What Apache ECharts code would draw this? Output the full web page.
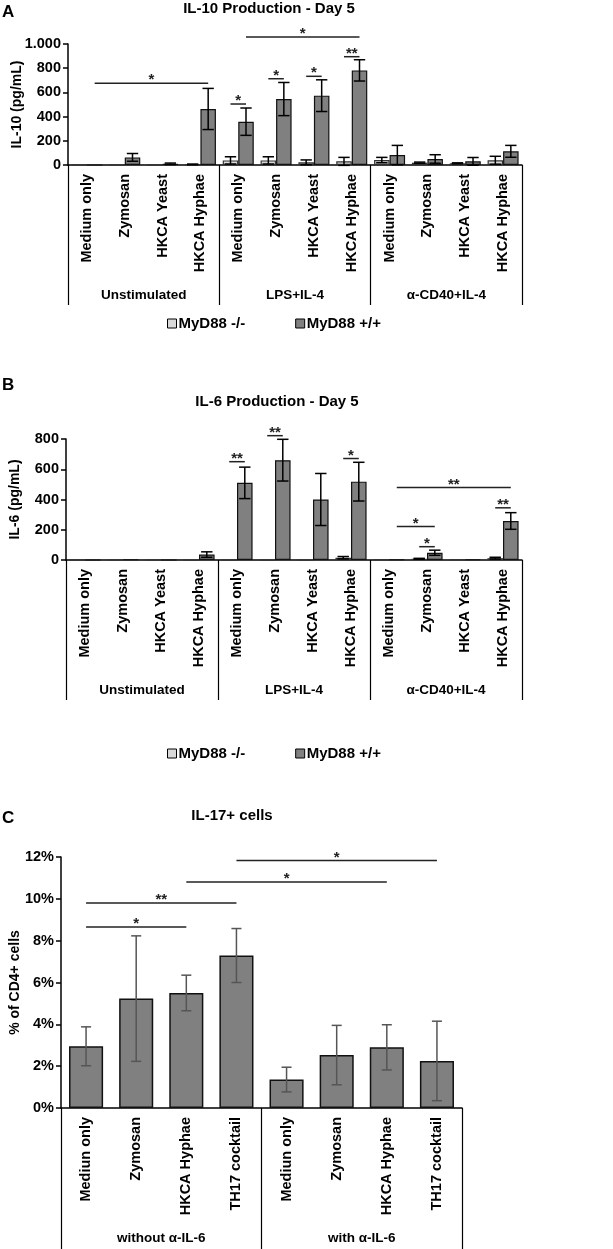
<!DOCTYPE html>
<html>
<head>
<meta charset="utf-8">
<script src="https://cdn.jsdelivr.net/npm/echarts@6/dist/echarts.min.js"></script>
<style>html,body{margin:0;padding:0;background:#fff}#c{width:613px;height:1249px}</style>
</head>
<body>
<div id="c"></div>
<script>
// ---------- data ----------
const catsAB = ['Medium only','Zymosan','HKCA Yeast','HKCA Hyphae','Medium only','Zymosan','HKCA Yeast','HKCA Hyphae','Medium only','Zymosan','HKCA Yeast','HKCA Hyphae'];
const groupsAB = ['Unstimulated','LPS+IL-4','α-CD40+IL-4'];
const seriesNames = ['MyD88 -/-','MyD88 +/+'];

const il10Ko    = [0, 0, 0, 5,   38, 38, 22, 30,   41, 19, 14, 39];
const il10KoErr = [0, 0, 0, 3,   30, 30, 20, 33,   22, 5, 4, 33];
const il10Wt    = [0, 63, 10, 463,  358, 545, 573, 782,  82, 50, 30, 113];
const il10WtErr = [0, 32, 6, 170,   113, 137, 131, 88,   80, 35, 32, 49];
// [fromCat, fromSeries(0=-/-,1=+/+), toCat, toSeries, height, mark]
const il10Sig = [[0,1,3,1,675,'*'],[4,1,7,1,1058,'*'],[4,0,4,1,504,'*'],[5,0,5,1,713,'*'],[6,0,6,1,733,'*'],[7,0,7,1,895,'**']];

const il6Ko    = [0, 0, 0, 0,   0, 0, 0, 15,   3, 8, 3, 12];
const il6KoErr = [0, 0, 0, 0,   0, 0, 0, 8,    0, 3, 0, 6];
const il6Wt    = [0, 3, 0, 36,  510, 660, 400, 518,  3, 48, 3, 258];
const il6WtErr = [0, 0, 0, 18,  104, 138, 172, 128,  0, 17, 0, 55];
const il6Sig = [[4,0,4,1,650,'**'],[5,0,5,1,822,'**'],[7,0,7,1,671,'*'],[8,1,11,1,479,'**'],[11,0,11,1,345,'**'],[8,1,9,1,221,'*'],[9,0,9,1,88,'*']];

const catsC = ['Mediun only','Zymosan','HKCA Hyphae','TH17 cocktail','Mediun only','Zymosan','HKCA Hyphae','TH17 cocktail'];
const groupsC = ['without α-IL-6','with α-IL-6'];
const il17    = [2.95, 5.23, 5.5, 7.29, 1.36, 2.53, 2.9, 2.25];
const il17Err = [0.93, 3.0, 0.85, 1.29, 0.59, 1.42, 1.08, 1.9];
// [fromCat, toCat, height, mark]
const il17Sig = [[0,2,8.65,'*'],[0,3,9.8,'**'],[2,6,10.81,'*'],[3,7,11.83,'*']];

// ---------- style ----------
const FONT = '"Liberation Sans", Arial, sans-serif';
const LIGHT = '#d9d9d9', DARK = '#808080';
const BAR_CAT_GAP_AB = 0.18;
const BAR_FRAC_AB = (1 - BAR_CAT_GAP_AB) / 2;

function errSeries(grid, values, errs, offsetFrac, capFrac, color, width) {
  return {
    type: 'custom', xAxisIndex: grid.x, yAxisIndex: grid.y, clip: false, z: 5,
    data: values.map((v, i) => [i, v, errs[i]]),
    renderItem: function (params, api) {
      const i = api.value(0), v = api.value(1), e = api.value(2);
      if (!e) return null;
      const band = api.size([1, 0])[0];
      const cx = api.coord([i, v])[0] + offsetFrac * band;
      const yt = api.coord([i, v + e])[1];
      const yb = api.coord([i, v - e])[1];
      const hw = capFrac * band / 2;
      const ls = { stroke: color, lineWidth: width };
      return { type: 'group', children: [
        { type: 'line', shape: { x1: cx, y1: yt, x2: cx, y2: yb }, style: ls },
        { type: 'line', shape: { x1: cx - hw, y1: yt, x2: cx + hw, y2: yt }, style: ls },
        { type: 'line', shape: { x1: cx - hw, y1: yb, x2: cx + hw, y2: yb }, style: ls }
      ]};
    }
  };
}

function sigSeriesAB(grid, sig) {
  return {
    type: 'custom', xAxisIndex: grid.x, yAxisIndex: grid.y, clip: false, z: 6,
    data: sig.map(s => [s[0], s[4]]),
    renderItem: function (params, api) {
      const s = sig[params.dataIndex];
      const band = api.size([1, 0])[0];
      const off = k => (k === 0 ? -1 : 1) * BAR_FRAC_AB / 2 * band;
      const x1 = api.coord([s[0], s[4]])[0] + off(s[1]);
      const x2 = api.coord([s[2], s[4]])[0] + off(s[3]);
      const y = api.coord([s[0], s[4]])[1];
      return { type: 'group', children: [
        { type: 'line', shape: { x1: x1, y1: y, x2: x2, y2: y }, style: { stroke: '#222', lineWidth: 1.5 } },
        { type: 'text', style: { text: s[5], x: (x1 + x2) / 2, y: y - 3, textAlign: 'center', textVerticalAlign: 'middle', font: 'bold 15px ' + FONT, fill: '#222' } }
      ]};
    }
  };
}

function sigSeriesC(grid, sig) {
  return {
    type: 'custom', xAxisIndex: grid.x, yAxisIndex: grid.y, clip: false, z: 6,
    data: sig.map(s => [s[0], s[2]]),
    renderItem: function (params, api) {
      const s = sig[params.dataIndex];
      const x1 = api.coord([s[0], s[2]])[0];
      const x2 = api.coord([s[1], s[2]])[0];
      const y = api.coord([s[0], s[2]])[1];
      return { type: 'group', children: [
        { type: 'line', shape: { x1: x1, y1: y, x2: x2, y2: y }, style: { stroke: '#222', lineWidth: 1.5 } },
        { type: 'text', style: { text: s[3], x: (x1 + x2) / 2, y: y - 3, textAlign: 'center', textVerticalAlign: 'middle', font: 'bold 15px ' + FONT, fill: '#222' } }
      ]};
    }
  };
}

const axisLbl = { fontFamily: FONT, fontWeight: 'bold', fontSize: 14.5, color: '#000' };
const groupLbl = { fontFamily: FONT, fontWeight: 'bold', fontSize: 13.5, color: '#000' };

function catAxis(grid, cats) {
  return { type: 'category', gridIndex: grid, data: cats, position: 'bottom',
    axisLine: { show: true, lineStyle: { color: '#000', width: 1.5 } },
    axisTick: { show: false },
    axisLabel: Object.assign({ rotate: 90, margin: 9, interval: 0 }, axisLbl) };
}
function groupAxis(grid, groups, len, margin) {
  return { type: 'category', gridIndex: grid, data: groups, position: 'bottom',
    axisLine: { show: false },
    axisTick: { show: true, length: len, lineStyle: { color: '#000', width: 1.2 } },
    axisLabel: Object.assign({ margin: margin, interval: 0 }, groupLbl) };
}
function valAxis(grid, max, interval, name, nameGap, fmt) {
  return { type: 'value', gridIndex: grid, min: 0, max: max, interval: interval,
    name: name, nameLocation: 'middle', nameGap: nameGap, nameRotate: 90, nameMoveOverlap: false,
    nameTextStyle: { fontFamily: FONT, fontWeight: 'bold', fontSize: 14, color: '#000' },
    axisLine: { show: true, lineStyle: { color: '#000', width: 1.5 } },
    axisTick: { show: true, length: 5, lineStyle: { color: '#000', width: 1.5 } },
    splitLine: { show: false },
    axisLabel: Object.assign({ margin: 7, formatter: fmt }, axisLbl) };
}

const gA = { x: 0, y: 0 }, gB = { x: 2, y: 1 }, gC = { x: 4, y: 2 };

const barBase = { type: 'bar', barGap: '0%', barCategoryGap: (BAR_CAT_GAP_AB * 100) + '%' };

const legendBase = { icon: 'rect', itemWidth: 9, itemHeight: 9, itemGap: 50,
  textStyle: { fontFamily: FONT, fontWeight: 'bold', fontSize: 15, color: '#000', padding: [0,0,0,-3] },
  itemStyle: { borderColor: '#000', borderWidth: 1 } };

const option = {
  animation: false,
  backgroundColor: '#fff',
  textStyle: { fontFamily: FONT },
  grid: [
    { left: 68, top: 44, width: 454, height: 121, outerBoundsMode: 'none', containLabel: false },
    { left: 66, top: 439, width: 456, height: 121, outerBoundsMode: 'none', containLabel: false },
    { left: 61, top: 857, width: 401, height: 251, outerBoundsMode: 'none', containLabel: false }
  ],
  xAxis: [
    catAxis(0, catsAB), groupAxis(0, groupsAB, 140, 123),
    catAxis(1, catsAB), groupAxis(1, groupsAB, 140, 123),
    catAxis(2, catsC), groupAxis(2, groupsC, 142, 123)
  ],
  yAxis: [
    valAxis(0, 1000, 200, 'IL-10 (pg/mL)', 44, v => v === 1000 ? '1.000' : String(v)),
    valAxis(1, 800, 200, 'IL-6 (pg/mL)', 44, v => String(v)),
    valAxis(2, 12, 2, '% of CD4+ cells', 39, v => v + '%')
  ],
  legend: [
    Object.assign({ data: seriesNames, left: 162, top: 311 }, legendBase),
    Object.assign({ data: seriesNames, left: 162, top: 741 }, legendBase)
  ],
  graphic: [
    { type: 'text', left: 2, top: 4, style: { text: 'A', font: 'bold 17px ' + FONT, fill: '#000' } },
    { type: 'text', style: { text: 'IL-10 Production - Day 5', x: 269, y: 9, textAlign: 'center', textVerticalAlign: 'middle', font: 'bold 15px ' + FONT, fill: '#000' } },
    { type: 'text', left: 2, top: 377, style: { text: 'B', font: 'bold 17px ' + FONT, fill: '#000' } },
    { type: 'text', style: { text: 'IL-6 Production - Day 5', x: 277, y: 402, textAlign: 'center', textVerticalAlign: 'middle', font: 'bold 15px ' + FONT, fill: '#000' } },
    { type: 'text', left: 2, top: 810, style: { text: 'C', font: 'bold 17px ' + FONT, fill: '#000' } },
    { type: 'text', style: { text: 'IL-17+ cells', x: 232, y: 816, textAlign: 'center', textVerticalAlign: 'middle', font: 'bold 15px ' + FONT, fill: '#000' } }
  ],
  series: [
    Object.assign({}, barBase, { name: seriesNames[0], xAxisIndex: 0, yAxisIndex: 0, data: il10Ko,
      itemStyle: { color: LIGHT, borderColor: '#333', borderWidth: 1.2 } }),
    Object.assign({}, barBase, { name: seriesNames[1], xAxisIndex: 0, yAxisIndex: 0, data: il10Wt,
      itemStyle: { color: DARK, borderColor: '#111', borderWidth: 1.2 } }),
    errSeries(gA, il10Ko, il10KoErr, -BAR_FRAC_AB / 2, 0.3, '#000', 1.5),
    errSeries(gA, il10Wt, il10WtErr, BAR_FRAC_AB / 2, 0.3, '#000', 1.5),
    sigSeriesAB(gA, il10Sig),

    Object.assign({}, barBase, { name: seriesNames[0], xAxisIndex: 2, yAxisIndex: 1, data: il6Ko,
      itemStyle: { color: LIGHT, borderColor: '#333', borderWidth: 1.2 } }),
    Object.assign({}, barBase, { name: seriesNames[1], xAxisIndex: 2, yAxisIndex: 1, data: il6Wt,
      itemStyle: { color: DARK, borderColor: '#111', borderWidth: 1.2 } }),
    errSeries(gB, il6Ko, il6KoErr, -BAR_FRAC_AB / 2, 0.3, '#000', 1.5),
    errSeries(gB, il6Wt, il6WtErr, BAR_FRAC_AB / 2, 0.3, '#000', 1.5),
    sigSeriesAB(gB, il6Sig),

    { type: 'bar', name: 'IL-17', xAxisIndex: 4, yAxisIndex: 2, data: il17, barCategoryGap: '32%',
      itemStyle: { color: DARK, borderColor: '#111', borderWidth: 1.5 } },
    errSeries(gC, il17, il17Err, 0, 0.2, '#555', 1.5),
    sigSeriesC(gC, il17Sig)
  ]
};

const chart = echarts.init(document.getElementById('c'), null, { renderer: 'canvas' });
chart.setOption(option);
</script>
</body>
</html>
